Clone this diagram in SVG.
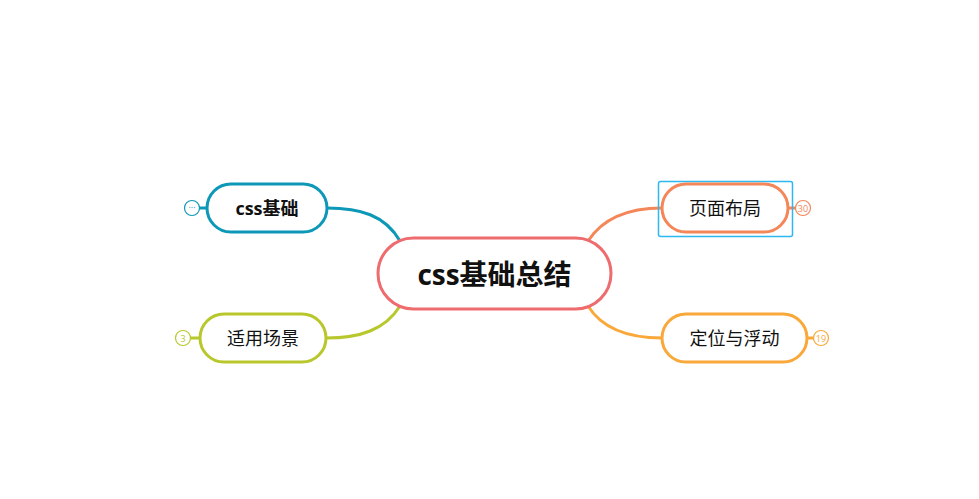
<svg xmlns="http://www.w3.org/2000/svg" width="979" height="499" viewBox="0 0 979 499">
<style>
text{font-family:"Open Sans","Noto Sans CJK SC",sans-serif;text-anchor:middle;dominant-baseline:central;fill:#111}
.n{fill:#fff;stroke-width:3}
.c{fill:none;stroke-width:3}
.b{fill:#fff;stroke-width:1.2}
.s{font-size:9px}
</style>
<rect width="979" height="499" fill="#fff"/>
<g id="connectors">
<path class="c" stroke="#0e98b8" d="M400,241 C385,215 360,208 327,208"/>
<path class="c" stroke="#b8c82c" d="M400,306 C385,330 360,338 326,338"/>
<path class="c" stroke="#f4875a" d="M588,241 C603,218 630,208 662,208"/>
<path class="c" stroke="#f9a83a" d="M588,306 C603,330 630,338 662,338"/>
<path class="c" stroke="#0e98b8" stroke-width="2" d="M199,208 H207"/>
<path class="c" stroke="#b8c82c" stroke-width="2" d="M190,338 H200"/>
<path class="c" stroke="#f4875a" stroke-width="2" d="M788,208 H796"/>
<path class="c" stroke="#f9a83a" stroke-width="2" d="M807,338 H814"/>
</g>
<g id="root">
<rect class="n" x="378" y="238" width="233" height="71" rx="35.5" stroke="#ee6b6e"/>
<text x="494.5" y="274" font-size="28" font-weight="bold">css基础总结</text>
</g>
<g id="n1">
<rect class="n" x="207" y="184" width="120" height="48" rx="24" stroke="#0e98b8"/>
<text x="267" y="208" font-size="18" font-weight="bold">css基础</text>
<circle class="b" cx="192" cy="208" r="7.5" stroke="#0e98b8"/>
<text x="192" y="207" class="s" style="fill:#0e98b8">···</text>
</g>
<g id="n2">
<rect class="n" x="200" y="314" width="126" height="48" rx="24" stroke="#b8c82c"/>
<text x="263" y="338" font-size="18">适用场景</text>
<circle class="b" cx="183" cy="338" r="7.5" stroke="#b8c82c"/>
<text x="183" y="338" class="s" style="fill:#b8c82c">3</text>
</g>
<g id="n3">
<rect x="658.5" y="181.5" width="134" height="55" rx="2" fill="none" stroke="#2eb8f0" stroke-width="1.5"/>
<rect class="n" x="662" y="184" width="126" height="48" rx="24" stroke="#f4875a"/>
<text x="725" y="208" font-size="18">页面布局</text>
<circle class="b" cx="803" cy="208" r="7.5" stroke="#f4875a"/>
<text x="803" y="208" class="s" style="fill:#f4875a">30</text>
</g>
<g id="n4">
<rect class="n" x="662" y="314" width="145" height="48" rx="24" stroke="#f9a83a"/>
<text x="734.5" y="338" font-size="18">定位与浮动</text>
<circle class="b" cx="821" cy="338" r="7.5" stroke="#f9a83a"/>
<text x="821" y="338" class="s" style="fill:#f9a83a">19</text>
</g>
</svg>
